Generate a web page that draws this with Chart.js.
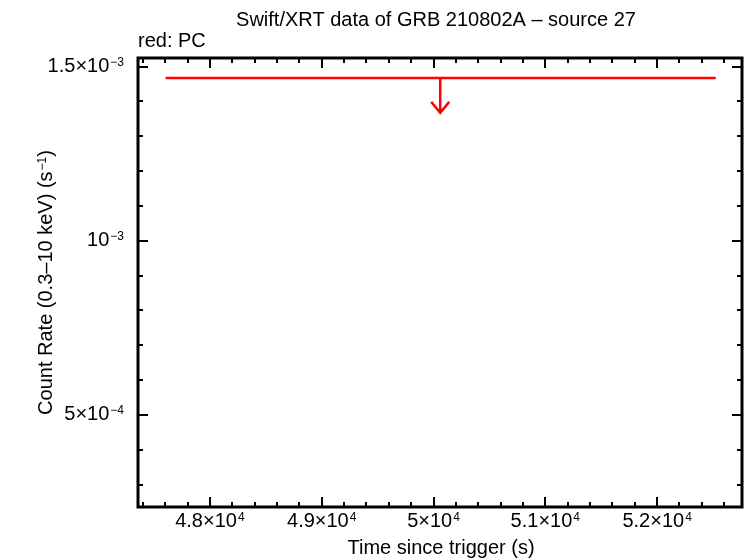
<!DOCTYPE html>
<html>
<head>
<meta charset="utf-8">
<script src="https://cdn.jsdelivr.net/npm/chart.js@4"></script>
<style>
html, body { margin: 0; padding: 0; background: #fff; }
#wrap { width: 746px; height: 558px; }
</style>
</head>
<body>
<div id="wrap"><canvas id="lc" width="746" height="558"></canvas></div>
<script>
// PC mode upper limit (only one bin)
const times = [50060];
const timeLo = [47604];
const timeHi = [52524];
const rateUL = [1.467e-3];
const arrowDrop = [1.0e-4];

const xMajor = [48000, 49000, 50000, 51000, 52000];
const xTickBase = ['4.8×10', '4.9×10', '5×10', '5.1×10', '5.2×10'];
const xTickExp = ['4', '4', '4', '4', '4'];
const yMajor = [5e-4, 1e-3, 1.5e-3];
const yTickBase = ['5×10', '10', '1.5×10'];
const yTickExp = ['−4', '−3', '−3'];

const FONT = '"Liberation Sans", Arial, sans-serif';
const SIZE = 20;

// draws a run of [text, isSuperscript] pieces
function drawSegs(ctx, segs, x, y, align, size) {
    const small = Math.round(size * 0.6);
    const widths = segs.map(s => {
        ctx.font = (s[1] ? small : size) + 'px ' + FONT;
        return ctx.measureText(s[0]).width + (s[1] ? 1 : 0);
    });
    const total = widths.reduce((p, w) => p + w, 0);
    let cx = x;
    if (align === 'right') cx = x - total;
    if (align === 'center') cx = x - total / 2;
    ctx.textAlign = 'left';
    segs.forEach((s, i) => {
        ctx.font = (s[1] ? small : size) + 'px ' + FONT;
        ctx.fillText(s[0], cx + (s[1] ? 1 : 0), s[1] ? y - size * 0.3 : y);
        cx += widths[i];
    });
}

const xrtPlot = {
    id: 'xrtPlot',
    afterDraw(chart) {
        const ctx = chart.ctx;
        const a = chart.chartArea;
        const xs = chart.scales.x, ys = chart.scales.y;
        ctx.save();
        ctx.fillStyle = '#000';
        ctx.strokeStyle = '#000';

        // minor + major ticks on all four sides
        ctx.lineWidth = 2;
        ctx.beginPath();
        for (let v = 47400; v <= xs.max; v += 200) {
            if (v < xs.min) continue;
            const px = Math.round(xs.getPixelForValue(v));
            const len = (v % 1000 === 0) ? 10 : 5;
            ctx.moveTo(px, a.bottom); ctx.lineTo(px, a.bottom - len);
            ctx.moveTo(px, a.top); ctx.lineTo(px, a.top + len);
        }
        for (let k = 3; k <= 15; k++) {
            const v = k * 1e-4;
            if (v < ys.min || v > ys.max) continue;
            const py = Math.round(ys.getPixelForValue(v));
            const len = (k % 5 === 0) ? 10 : 5;
            ctx.moveTo(a.left, py); ctx.lineTo(a.left + len, py);
            ctx.moveTo(a.right, py); ctx.lineTo(a.right - len, py);
        }
        ctx.stroke();

        // frame
        ctx.lineWidth = 3;
        ctx.strokeRect(a.left, a.top, a.right - a.left, a.bottom - a.top);

        // tick labels
        ctx.textBaseline = 'alphabetic';
        xMajor.forEach((v, i) => {
            drawSegs(ctx, [[xTickBase[i], false], [xTickExp[i], true]], xs.getPixelForValue(v), 527, 'center', SIZE);
        });
        yMajor.forEach((v, i) => {
            drawSegs(ctx, [[yTickBase[i], false], [yTickExp[i], true]], 124, ys.getPixelForValue(v) + 5, 'right', SIZE);
        });

        // titles
        drawSegs(ctx, [['Swift/XRT data of GRB 210802A – source 27', false]], 436, 26, 'center', SIZE);
        drawSegs(ctx, [['Time since trigger (s)', false]], 441, 554, 'center', SIZE);
        drawSegs(ctx, [['red: PC', false]], 138, 47, 'left', SIZE);

        ctx.save();
        ctx.translate(52, (a.top + a.bottom) / 2);
        ctx.rotate(-Math.PI / 2);
        drawSegs(ctx, [['Count Rate (0.3–10 keV) (s', false], ['−1', true], [')', false]], 0, 0, 'center', SIZE);
        ctx.restore();

        // upper limits: horizontal time bar + down arrow
        ctx.strokeStyle = '#ff0000';
        ctx.lineWidth = 2.5;
        times.forEach((t, i) => {
            const y0 = ys.getPixelForValue(rateUL[i]);
            const y1 = ys.getPixelForValue(rateUL[i] - arrowDrop[i]);
            const xc = xs.getPixelForValue(t);
            ctx.beginPath();
            ctx.moveTo(xs.getPixelForValue(timeLo[i]), y0);
            ctx.lineTo(xs.getPixelForValue(timeHi[i]), y0);
            ctx.moveTo(xc, y0);
            ctx.lineTo(xc, y1);
            ctx.moveTo(xc - 9, y1 - 11);
            ctx.lineTo(xc, y1);
            ctx.lineTo(xc + 9, y1 - 11);
            ctx.stroke();
        });
        ctx.restore();
    }
};

new Chart(document.getElementById('lc'), {
    type: 'scatter',
    data: {
        datasets: [{
            label: 'PC',
            data: times.map((t, i) => ({ x: t, y: rateUL[i] })),
            pointRadius: 0,
            showLine: false
        }]
    },
    options: {
        responsive: false,
        animation: false,
        layout: { padding: { left: 138, top: 58, right: 4, bottom: 51 } },
        plugins: { legend: { display: false }, tooltip: { enabled: false } },
        scales: {
            x: { type: 'linear', display: false, min: 47357, max: 52759 },
            y: { type: 'linear', display: false, min: 2.356e-4, max: 1.5244e-3 }
        }
    },
    plugins: [xrtPlot]
});
</script>
</body>
</html>
